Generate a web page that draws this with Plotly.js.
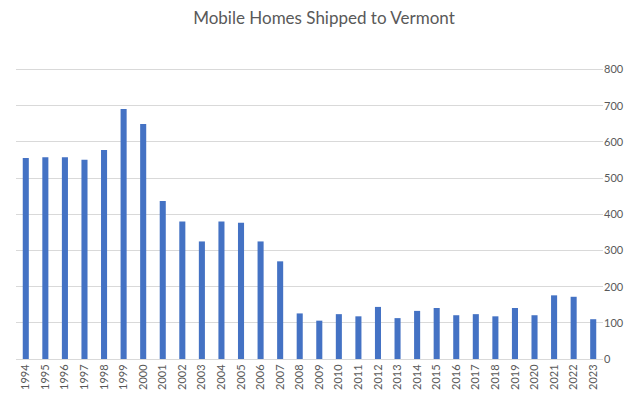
<!DOCTYPE html>
<html>
<head>
<meta charset="utf-8">
<script src="https://cdn.plot.ly/plotly-3.0.1.min.js"></script>
<style>html,body{margin:0;padding:0;background:#fff;}#chart{width:634px;height:400px;}</style>
</head>
<body>
<div id="chart"></div>
<script>
const years = ["1994","1995","1996","1997","1998","1999","2000","2001","2002","2003","2004","2005","2006","2007","2008","2009","2010","2011","2012","2013","2014","2015","2016","2017","2018","2019","2020","2021","2022","2023"];
const shipped = [556,558,558,551,578,691,650,437,380,325,380,377,325,270,126,106,124,118,144,113,133,141,121,124,118,141,121,176,172,110];
const yTicks = [0,100,200,300,400,500,600,700,800];

const trace = {
  type: 'bar',
  x: years,
  y: shipped,
  marker: {color: '#4472C4'},
  hoverinfo: 'x+y'
};

const layout = {
  width: 634, height: 400,
  margin: {l: 16, r: 31, t: 66, b: 41},
  paper_bgcolor: '#fff', plot_bgcolor: '#fff',
  bargap: 0.69,
  showlegend: false,
  title: {text: 'Mobile Homes Shipped to Vermont', x: 0.511, xanchor: 'center', y: 0.955, yanchor: 'middle',
          font: {family: 'Lato, "Open Sans", sans-serif', size: 17, color: '#595959'}},
  xaxis: {type: 'category', tickangle: -90, tickfont: {family: 'Lato, "Open Sans", sans-serif', size: 11, color: '#595959'},
          showgrid: false, showline: true, linecolor: '#d9d9d9', linewidth: 1, ticks: '', ticklen: 0, automargin: false},
  yaxis: {side: 'right', range: [0, 810], tickvals: yTicks, ticktext: yTicks.map(String),
          tickfont: {family: 'Lato, "Open Sans", sans-serif', size: 11, color: '#595959'},
          showgrid: true, gridcolor: '#d9d9d9', gridwidth: 1, zeroline: false, showline: false, ticks: '', automargin: false}
};

Plotly.newPlot('chart', [trace], layout, {displayModeBar: false, staticPlot: true});
</script>
</body>
</html>
